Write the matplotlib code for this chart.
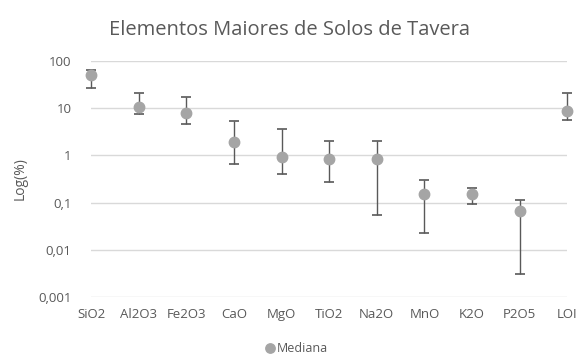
import matplotlib.pyplot as plt
import numpy as np

# data
elementos = ['SiO2', 'Al2O3', 'Fe2O3', 'CaO', 'MgO', 'TiO2', 'Na2O', 'MnO', 'K2O', 'P2O5', 'LOI']
mediana = [50, 10.5, 7.8, 1.9, 0.91, 0.84, 0.82, 0.15, 0.15, 0.065, 8.7]
maximo = [64, 21, 17, 5.3, 3.7, 2.0, 2.0, 0.30, 0.20, 0.115, 21]
minimo = [27, 7.4, 4.6, 0.65, 0.40, 0.27, 0.055, 0.023, 0.091, 0.0031, 5.5]

plt.rcParams['font.family'] = ['Open Sans', 'DejaVu Sans']
txt = '#595959'

fig = plt.figure(figsize=(5.77, 3.59), dpi=100)
ax = fig.add_axes([0.158, 0.173, 0.825, 0.657])

x = np.arange(len(elementos))
med = np.array(mediana)
err = [med - np.array(minimo), np.array(maximo) - med]
ax.errorbar(x, med, yerr=err, fmt='none', ecolor='#595959', elinewidth=1,
            capsize=3.5, capthick=1.2, clip_on=False, zorder=2)
ax.plot(x, med, 'o', color='#A5A5A5', markersize=7.5, clip_on=False,
        zorder=3, label='Mediana')

ax.set_yscale('log')
ax.set_ylim(0.001, 100)
ax.set_xlim(0, len(elementos) - 1)
ax.set_yticks([0.001, 0.01, 0.1, 1, 10, 100])
ax.set_yticklabels(['0,001', '0,01', '0,1', '1', '10', '100'])
ax.minorticks_off()
ax.set_xticks(x)
ax.set_xticklabels(elementos)
ax.tick_params(length=0, labelcolor=txt, labelsize=9.5)
ax.tick_params(axis='x', pad=8)
ax.tick_params(axis='y', pad=14)
ax.grid(axis='y', color='#D9D9D9', linewidth=1)
ax.set_axisbelow(True)
for s in ax.spines.values():
    s.set_visible(False)

ax.set_ylabel('Log(%)', color=txt, fontsize=10, labelpad=8)
fig.suptitle('Elementos Maiores de Solos de Tavera', color=txt, fontsize=14.5, x=0.502, y=0.945)

ax.legend(loc='upper center', bbox_to_anchor=(0.43, -0.145), frameon=False,
          fontsize=9, labelcolor=txt, handletextpad=0.1, markerscale=0.9, handlelength=1)

fig.savefig('out.png', dpi=100)
